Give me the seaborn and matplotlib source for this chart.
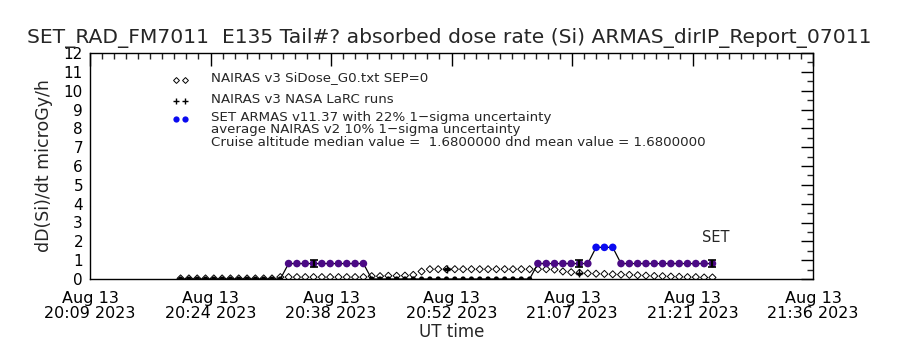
import numpy as np
import pandas as pd
import matplotlib
matplotlib.use("Agg")
import matplotlib.pyplot as plt
from matplotlib import font_manager
from matplotlib.ticker import FixedLocator, MultipleLocator
import seaborn as sns

# ---------------- data ----------------
title = "SET_RAD_FM7011  E135 Tail#? absorbed dose rate (Si) ARMAS_dirIP_Report_07011"
tick_minutes = [0, 14.5, 29, 43.5, 58, 72.5, 87]          # minutes after 20:09 UT
tick_labels = ["Aug 13\n20:09 2023", "Aug 13\n20:24 2023", "Aug 13\n20:38 2023",
               "Aug 13\n20:52 2023", "Aug 13\n21:07 2023", "Aug 13\n21:21 2023",
               "Aug 13\n21:36 2023"]
y_ticks = list(range(0, 13))

# one sample per minute (minutes after 20:09 UT)
minutes = [m - 0.1 for m in range(11, 76)]

armas = ([0.0] * 13 + [0.82] * 10 + [0.0] * 20 + [0.82] * 7 +
         [1.68] * 3 + [0.82] * 12)

nairas = ([0.03] * 12 + [0.10] * 11 +
          [0.15, 0.15, 0.17, 0.17, 0.18, 0.22, 0.40] +
          [0.52] * 15 +
          [0.50, 0.40, 0.36, 0.33, 0.30, 0.28, 0.27, 0.25, 0.23, 0.22,
           0.20, 0.18, 0.16, 0.15, 0.13, 0.12, 0.10, 0.10, 0.08, 0.08])

armas_err_minutes = [26.9, 58.9, 74.9]
armas_err_values = [0.82, 0.82, 0.82]
armas_sigma = 0.22

larc_minutes = [42.9, 58.9]
larc_values = [0.52, 0.30]
nairas_sigma = 0.10

cruise_median = 1.68
cruise_mean = 1.68

legend_texts = ["NAIRAS v3 SiDose_G0.txt SEP=0",
                "NAIRAS v3 NASA LaRC runs",
                "SET ARMAS v11.37 with 22% 1\u2212sigma uncertainty",
                "average NAIRAS v2 10% 1\u2212sigma uncertainty",
                "Cruise altitude median value =  %.7f dnd mean value = %.7f" % (cruise_median, cruise_mean)]

# ---------------- style ----------------
sns.set_style("white")
fam = "DejaVu Sans"
for cand in ["Liberation Sans Narrow", "DejaVu Sans Condensed"]:
    try:
        font_manager.findfont(cand, fallback_to_default=False)
        fam = cand
        break
    except Exception:
        pass
plt.rcParams["font.family"] = [fam, "DejaVu Sans"]

df = pd.DataFrame({"t": minutes, "armas": armas, "nairas": nairas})
df["kind"] = np.where(df["armas"] <= 0, "zero",
                      np.where(df["armas"] >= cruise_median, "cruise", "climb"))
palette = {"zero": "black", "climb": "#4b0a85", "cruise": "#0a0af0"}
sizes = {"zero": 14, "climb": 30, "cruise": 30}

W, H = 900, 350
fig = plt.figure(figsize=(9, 3.5), dpi=100)
ax = fig.add_axes([90 / W, 1 - 279 / H, (813 - 90) / W, (279 - 53) / H])
ax.set_facecolor("white")

# NAIRAS diamonds
sns.scatterplot(data=df, x="t", y="nairas", marker="D", s=13, facecolors="none",
                edgecolor="black", linewidth=0.7, ax=ax, zorder=2)
# ARMAS line + markers
sns.lineplot(data=df, x="t", y="armas", color="black", lw=0.9, ax=ax, zorder=3)
sns.scatterplot(data=df, x="t", y="armas", hue="kind", palette=palette,
                size="kind", sizes=sizes, linewidth=0, ax=ax, zorder=4, legend=False)
# ARMAS error bars
ax.errorbar(armas_err_minutes, armas_err_values,
            yerr=[v * armas_sigma for v in armas_err_values],
            fmt="none", ecolor="black", elinewidth=1.6, capsize=3, capthick=1.2, zorder=5)
# NASA LaRC runs with error bars
ax.errorbar(larc_minutes, larc_values, yerr=[v * nairas_sigma for v in larc_values],
            fmt="+", color="black", ms=6, mew=1, elinewidth=1, capsize=2.5, zorder=5)

ax.set_xlim(tick_minutes[0], tick_minutes[-1])
ax.set_ylim(0, 12)
ax.xaxis.set_major_locator(FixedLocator(tick_minutes))
ax.xaxis.set_minor_locator(MultipleLocator(1.45))
ax.set_xticklabels(tick_labels, fontsize=11.5, linespacing=1.0)
ax.yaxis.set_major_locator(FixedLocator(y_ticks))
ax.yaxis.set_minor_locator(MultipleLocator(0.5))
ax.set_yticklabels([str(v) for v in y_ticks], fontsize=11)
ax.tick_params(which="major", direction="in", length=9, width=1, top=True, right=True,
               colors="black", pad=5)
ax.tick_params(which="minor", direction="in", length=4.5, width=1, top=True, right=True)
ax.tick_params(axis="x", which="major", pad=9)
for s in ax.spines.values():
    s.set_color("black")
    s.set_linewidth(1)
ax.set_xlabel("UT time", fontsize=12, labelpad=1)
ax.set_ylabel("dD(Si)/dt microGy/h", fontsize=12.5, labelpad=8)

fig.text(449 / W, 1 - 38 / H, title, fontsize=14.6, ha="center", va="center")

# legend-like annotations
sym_y = [80, 101, 119]
txt_y = [78, 99, 117, 130, 143]
ax.plot([176 / W, 185 / W], [1 - sym_y[0] / H] * 2, transform=fig.transFigure,
        ls="none", marker="D", ms=3, mfc="none", mec="black", mew=0.7, clip_on=False)
ax.plot([176 / W, 185 / W], [1 - sym_y[1] / H] * 2, transform=fig.transFigure,
        ls="none", marker="+", ms=5, color="black", mew=1, clip_on=False)
ax.plot([176 / W, 185 / W], [1 - sym_y[2] / H] * 2, transform=fig.transFigure,
        ls="none", marker="o", ms=4.5, color="#0a0af0", mew=0, clip_on=False)
for t, y in zip(legend_texts, txt_y):
    fig.text(211 / W, 1 - y / H, t, fontsize=9.6, ha="left", va="center")
fig.text(716 / W, 1 - 237 / H, "SET", fontsize=10.5, ha="center", va="center")

fig.savefig("out.png", dpi=100, facecolor="white")
